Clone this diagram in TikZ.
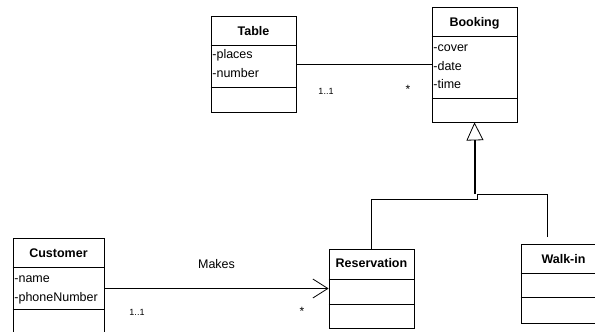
\documentclass[tikz,border=0pt]{standalone}
\usepackage{fontspec}
\setmainfont{Liberation Sans}
\usetikzlibrary{arrows.meta}
\begin{document}
\begin{tikzpicture}[x=1pt,y=-1pt,line width=0.8pt,
  cls/.style={draw, rectangle, inner sep=0pt, minimum width=85pt},
  ttl/.style={font=\fontsize{12.5}{14}\selectfont\bfseries, inner sep=0pt, anchor=base},
  attr/.style={font=\fontsize{12.5}{14}\selectfont, inner sep=0pt, anchor=base west},
  mult/.style={font=\fontsize{9}{10}\selectfont, inner sep=0pt},
  star/.style={font=\fontsize{12}{14}\selectfont, inner sep=0pt},
  lbl/.style={font=\fontsize{12.5}{14}\selectfont, inner sep=0pt, anchor=base}]
\useasboundingbox (0,0) rectangle (595,332);
\clip (0,0) rectangle (595,332);
\fill[white] (0,0) rectangle (595,332);

% Table
\node[cls, minimum height=96pt] (table) at (253.5,64) {};
\draw (table.west |- 0,45) -- (table.east |- 0,45);
\draw (table.west |- 0,87) -- (table.east |- 0,87);
\node[ttl] (tablet) at (253.5,35) {Table};
\node[attr] (tablea1) at (212,58) {-places};
\node[attr] (tablea2) at (212,77) {-number};

% Booking
\node[cls, minimum height=115pt] (booking) at (474.5,64.5) {};
\draw (booking.west |- 0,36) -- (booking.east |- 0,36);
\draw (booking.west |- 0,98) -- (booking.east |- 0,98);
\node[ttl] (bookingt) at (474.5,27) {Booking};
\node[attr] (bookinga1) at (433,51) {-cover};
\node[attr] (bookinga2) at (433,70) {-date};
\node[attr] (bookinga3) at (433,88) {-time};

% Customer
\node[cls, minimum width=91pt, minimum height=122pt] (customer) at (58.5,299) {};
\draw (customer.west |- 0,267) -- (customer.east |- 0,267);
\draw (customer.west |- 0,309) -- (customer.east |- 0,309);
\node[ttl] (customert) at (58.5,257) {Customer};
\node[attr] (customera1) at (14,282) {-name};
\node[attr] (customera2) at (14,301) {-phoneNumber};

% Reservation
\node[cls, minimum height=79pt] (reservation) at (371.5,288.5) {};
\draw (reservation.west |- 0,279) -- (reservation.east |- 0,279);
\draw (reservation.west |- 0,304) -- (reservation.east |- 0,304);
\node[ttl] (reservationt) at (371.5,267) {Reservation};

% Walk-in
\node[cls, minimum height=79pt] (walkin) at (563.5,283.5) {};
\draw (walkin.west |- 0,273) -- (walkin.east |- 0,273);
\draw (walkin.west |- 0,297) -- (walkin.east |- 0,297);
\node[ttl] (walkint) at (563.5,263) {Walk-in};

% Table -- Booking association
\draw (table.east) -- (table.east -| booking.west);
\node[mult] (m1) at (326,91) {1..1};
\node[star] (m2) at (408,89) {*};

% Customer -> Reservation
\draw[-{Straight Barb[length=15pt,width=19pt]}] (customer.east |- reservation.west) -- (reservation.west);
\node[lbl] (makes) at (216.5,268) {Makes};
\node[mult] (m3) at (137,312) {1..1};
\node[star] (m4) at (302,311) {*};

% Generalisation
\coordinate (jr) at (477,199);
\coordinate (jw) at (477,194);
\coordinate (jt) at (475,194);
\coordinate (wend) at (547,237);
\draw (reservation.north) |- (jr) -- (jw);
\draw (wend) |- (jw);
\draw[line width=1.3pt] (jt) -- (475,140);
\draw[-{Triangle[open,length=18pt,width=17pt,line width=0.8pt]}] (475,141) -- (booking.south);
\end{tikzpicture}
\end{document}
